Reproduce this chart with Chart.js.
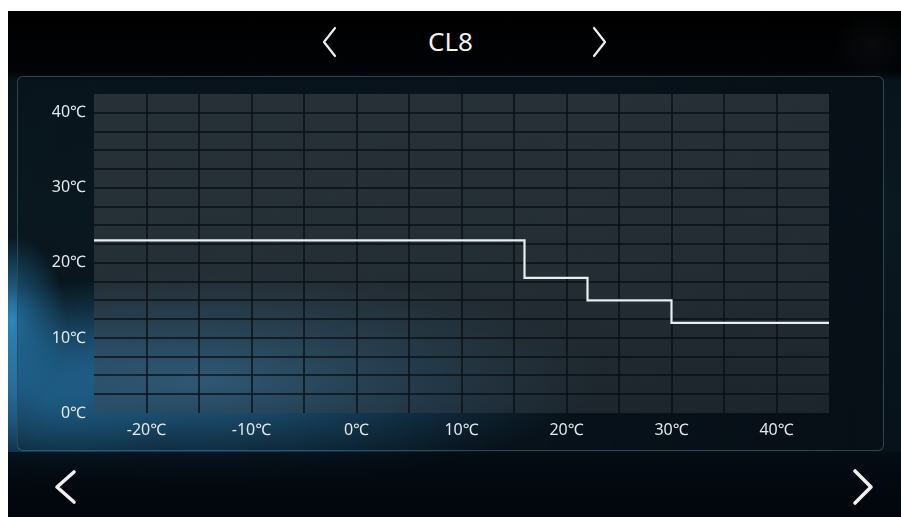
<!DOCTYPE html>
<html>
<head>
<meta charset="utf-8">
<title>CL8</title>
<script src="https://cdn.jsdelivr.net/npm/chart.js"></script>
<style>
    html, body { margin: 0; padding: 0; background: #fff; }
    .screen {
        position: absolute; left: 8px; top: 11px; width: 893px; height: 506px;
        overflow: hidden;
        background:
            radial-gradient(ellipse 55px 85px at 4px 310px, rgba(45, 145, 205, 0.9), rgba(30, 110, 170, 0) 100%),
            radial-gradient(ellipse 390px 105px at 200px 368px, rgba(50, 150, 215, 1), rgba(30, 100, 150, 0) 100%),
            radial-gradient(ellipse 130px 90px at 40px 385px, rgba(30, 105, 155, 0.6), rgba(30, 100, 150, 0) 100%),
            radial-gradient(ellipse 40px 36px at 864px 35px, rgba(30, 34, 38, 0.25), rgba(30, 34, 38, 0) 100%),
            linear-gradient(180deg, #000 0px, #010306 60px, #08141c 70px, #0a1820 200px, #07121a 440px, #040a12 445px, #02060c 506px);
    }
    .panel {
        position: absolute; left: 9px; top: 65px; width: 865px; height: 373px;
        border: 1px solid rgba(90, 135, 150, 0.45);
        border-radius: 6px;
        background: linear-gradient(90deg, rgba(10, 24, 32, 0.25), rgba(8, 18, 26, 0.55) 60%, rgba(7, 15, 22, 0.85));
    }
    .footer {
        position: absolute; left: 0; top: 441px; width: 893px; height: 65px;
        background: linear-gradient(180deg, rgba(4, 12, 20, 0.8), rgba(2, 6, 12, 0.95));
    }
    .title {
        position: absolute; left: 0; width: 901px; top: 23px;
        text-align: center; color: #f2f2f2;
        font: 26px 'Noto Sans', 'Open Sans', sans-serif;
    }
    #curveChart { position: absolute; left: 0; top: 0; }
    svg.arrows { position: absolute; left: 0; top: 0; }
</style>
</head>
<body>
<div class="screen"><div class="footer"></div><div class="panel"></div></div>
<div class="title">CL8</div>
<svg class="arrows" width="901" height="517">
    <g fill="none" stroke="#f0f0f0" stroke-linecap="round" stroke-linejoin="round">
        <polyline points="335,28 324,42 335,56" stroke-width="2.2"/>
        <polyline points="594,28 605,42 594,56" stroke-width="2.2"/>
        <polyline points="74,472 57,487 74,502" stroke-width="3.6"/>
        <polyline points="855,471 871,487 855,503" stroke-width="3.6"/>
    </g>
</svg>
<canvas id="curveChart" width="901" height="517"></canvas>
<script>
// outdoor temperature (x) -> target water temperature (y), step curve
const outdoorTemps = [-25, 16, 22, 30, 45];
const waterTemps = [23, 18, 15, 12, 12];

// which tick values get a label
const xTickLabels = [-20, -10, 0, 10, 20, 30, 40];
const yTickLabels = [0, 10, 20, 30, 40];

const labelFont = { family: "'Noto Sans', 'Noto Sans CJK SC', sans-serif", size: 16 };
const labelColor = '#e2e8ec';
const gridColor = 'rgba(8, 14, 18, 0.7)';

// --- fill behind the grid, a bit thinner near the bottom so the glow shows ---
const plotFill = {
    id: 'plotFill',
    beforeDraw(chart) {
        const { ctx, chartArea: a } = chart;
        const g = ctx.createLinearGradient(0, a.top, 0, a.bottom);
        g.addColorStop(0, 'rgba(62, 70, 76, 0.58)');
        g.addColorStop(0.55, 'rgba(62, 70, 76, 0.52)');
        g.addColorStop(1, 'rgba(62, 70, 76, 0.4)');
        ctx.save();
        ctx.fillStyle = g;
        ctx.fillRect(a.left, a.top, a.right - a.left, a.bottom - a.top);
        ctx.restore();
    }
};

// hide the grid lines on the outer edges of the plot
function innerGrid(c) {
    const v = c.tick.value;
    return (v === c.scale.min || v === c.scale.max) ? 'rgba(0,0,0,0)' : gridColor;
}

new Chart(document.getElementById('curveChart'), {
    type: 'line',
    data: {
        datasets: [{
            data: outdoorTemps.map((x, i) => ({ x, y: waterTemps[i] })),
            stepped: 'before',
            borderColor: '#e9eff1',
            borderWidth: 2.2,
            pointRadius: 0,
            fill: false
        }]
    },
    options: {
        responsive: false,
        animation: false,
        layout: { autoPadding: false, padding: { left: 0, top: 94, right: 72, bottom: 74 } },
        plugins: { legend: { display: false }, tooltip: { enabled: false } },
        scales: {
            x: {
                type: 'linear', min: -25, max: 45,
                afterFit: s => { s.height = 30; },
                grid: { drawTicks: false, lineWidth: 2, color: innerGrid },
                border: { display: false },
                ticks: {
                    stepSize: 5, autoSkip: false, maxRotation: 0, padding: 8,
                    color: labelColor, font: labelFont,
                    callback: v => xTickLabels.includes(v) ? v + '℃' : ''
                }
            },
            y: {
                min: 0, max: 42.5,
                afterFit: s => { s.width = 94; },
                grid: { drawTicks: false, lineWidth: 2, color: innerGrid },
                border: { display: false },
                ticks: {
                    stepSize: 2.5, autoSkip: false, padding: 8,
                    color: labelColor, font: labelFont,
                    callback: v => yTickLabels.includes(v) ? v + '℃' : ''
                }
            }
        }
    },
    plugins: [plotFill]
});
</script>
</body>
</html>
